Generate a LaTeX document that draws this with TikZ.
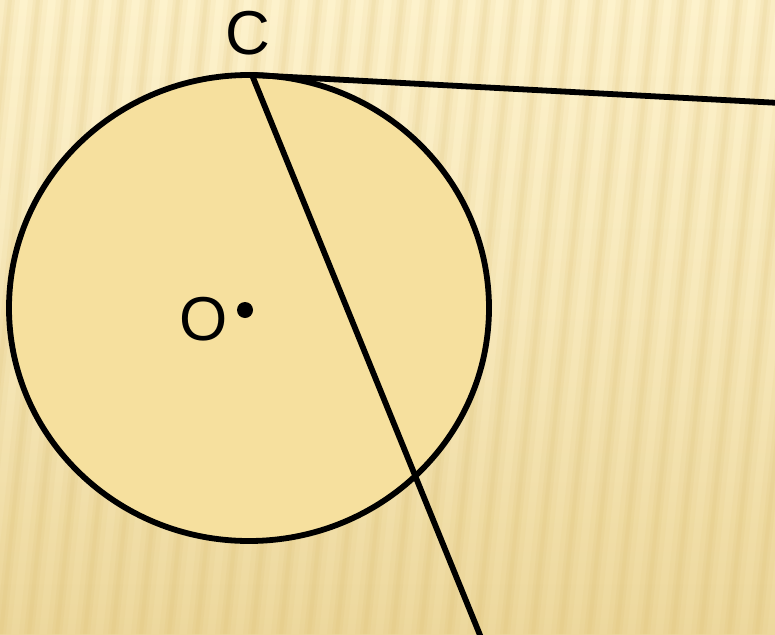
\documentclass[tikz,border=0pt]{standalone}
\usepackage{fontspec}
\setmainfont{Liberation Sans}
\begin{document}
\begin{tikzpicture}[x=1pt,y=-1pt,
  geo/.style={line width=5.8pt,black},
  lbl/.style={font=\fontsize{62}{62}\selectfont,inner sep=0pt}]
\definecolor{bgtop}{HTML}{FDF2CC}
\definecolor{bgbot}{HTML}{EDD89D}
\definecolor{stripe}{HTML}{D8B866}
\definecolor{disk}{HTML}{F6E09E}
\useasboundingbox (0,0) rectangle (775,634);
\begin{scope}
\clip (0,0) rectangle (775,634);
\shade[top color=bgtop,bottom color=bgbot,middle color=bgtop!60!bgbot] (0,0) rectangle (775,634);
\foreach \i in {-3,...,32}{
  \pgfmathsetmacro{\xx}{\i*28}
  \fill[stripe,opacity=.08] (\xx,0) -- ++(20,0) -- ++(-65,634) -- ++(-20,0) -- cycle;
  \fill[stripe,opacity=.10] (\xx+5,0) -- ++(10,0) -- ++(-65,634) -- ++(-10,0) -- cycle;
  \fill[stripe,opacity=.10] (\xx+8,0) -- ++(4,0) -- ++(-65,634) -- ++(-4,0) -- cycle;
}
\end{scope}
\coordinate (O) at (249,308);
\draw[geo,fill=disk] (O) ellipse [x radius=240,y radius=233];
\coordinate (C) at (252,75);
\coordinate (T) at (780,103);
\coordinate (E) at (482,640);
\draw[geo] (C) -- (T);
\draw[geo] (C) -- (E);
\fill (245,310) circle (8);
\node[lbl] (lO) at (204,319) {O};
\node[lbl] (lC) at (248,33) {C};
\end{tikzpicture}
\end{document}
